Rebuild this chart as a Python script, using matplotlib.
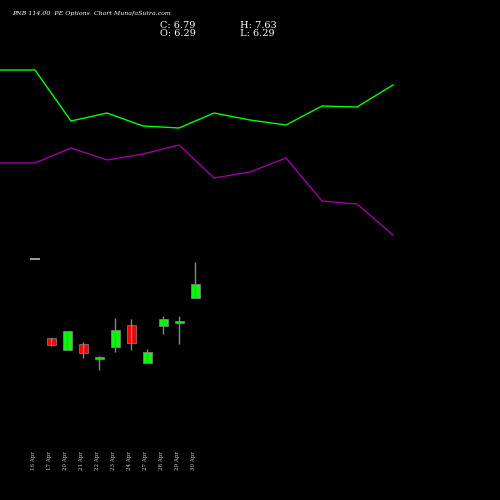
import matplotlib.pyplot as plt

# levels (screen rows, smaller = higher)
line_x = [0, 35, 71, 107, 143, 179, 214, 250, 286, 322, 357, 393]
green_line = [70, 70, 121, 113, 126, 128, 113, 120, 125, 106, 107, 85]
purple_line = [163, 163, 148, 160, 154, 145, 178, 172, 158, 201, 204, 235]

dates = ["16 Apr", "17 Apr", "20 Apr", "21 Apr", "22 Apr", "23 Apr",
         "24 Apr", "27 Apr", "28 Apr", "29 Apr", "30 Apr"]
opens = [259, 338, 350, 344, 359, 347, 325, 363, 326, 323, 298]
closes = [259, 345, 331, 353, 357, 330, 343, 352, 319, 321, 284]
highs = [259, 338, 331, 342, 356, 318, 319, 349, 316, 316, 262]
lows = [259, 346, 350, 358, 370, 352, 350, 363, 334, 344, 298]

fig = plt.figure(figsize=(5, 5), dpi=100, facecolor="black")
ax = fig.add_axes([0, 0, 1, 1], facecolor="black")
ax.set_xlim(0, 500)
ax.set_ylim(500, 0)
ax.axis("off")

ax.plot(line_x, green_line, color="#00ff00", lw=1)
ax.plot(line_x, purple_line, color="#a000a0", lw=1)

for i, d in enumerate(dates):
    x = 35 + 16 * i
    o, c, h, l = opens[i], closes[i], highs[i], lows[i]
    ax.vlines(x, h, l, color="#888888", lw=1)
    if o == c:
        ax.hlines(o, x - 5, x + 5, color="#999999", lw=1.5)
    else:
        col = "#00ff00" if c < o else "#ff0000"
        top, bot = min(o, c), max(o, c)
        h_ = max(bot - top, 2)
        ax.add_patch(plt.Rectangle((x - 4.5, top), 9, h_, facecolor=col,
                                   edgecolor="#888888", lw=0.5))
    ax.text(x - 2, 470, d, rotation=90, color="#cccccc", fontsize=4,
            ha="center", va="bottom", family="DejaVu Serif")

ax.text(12, 14, "PNB 114.00  PE Options  Chart MunafaSutra.com", color="white",
        fontsize=4.5, style="italic", family="DejaVu Serif", va="center")
ax.text(160, 25, "C: 6.79", color="white", fontsize=7, family="DejaVu Serif", va="center")
ax.text(160, 34, "O: 6.29", color="white", fontsize=7, family="DejaVu Serif", va="center")
ax.text(240, 25, "H: 7.63", color="white", fontsize=7, family="DejaVu Serif", va="center")
ax.text(240, 34, "L: 6.29", color="white", fontsize=7, family="DejaVu Serif", va="center")

fig.savefig("out.png", dpi=100, facecolor="black")
